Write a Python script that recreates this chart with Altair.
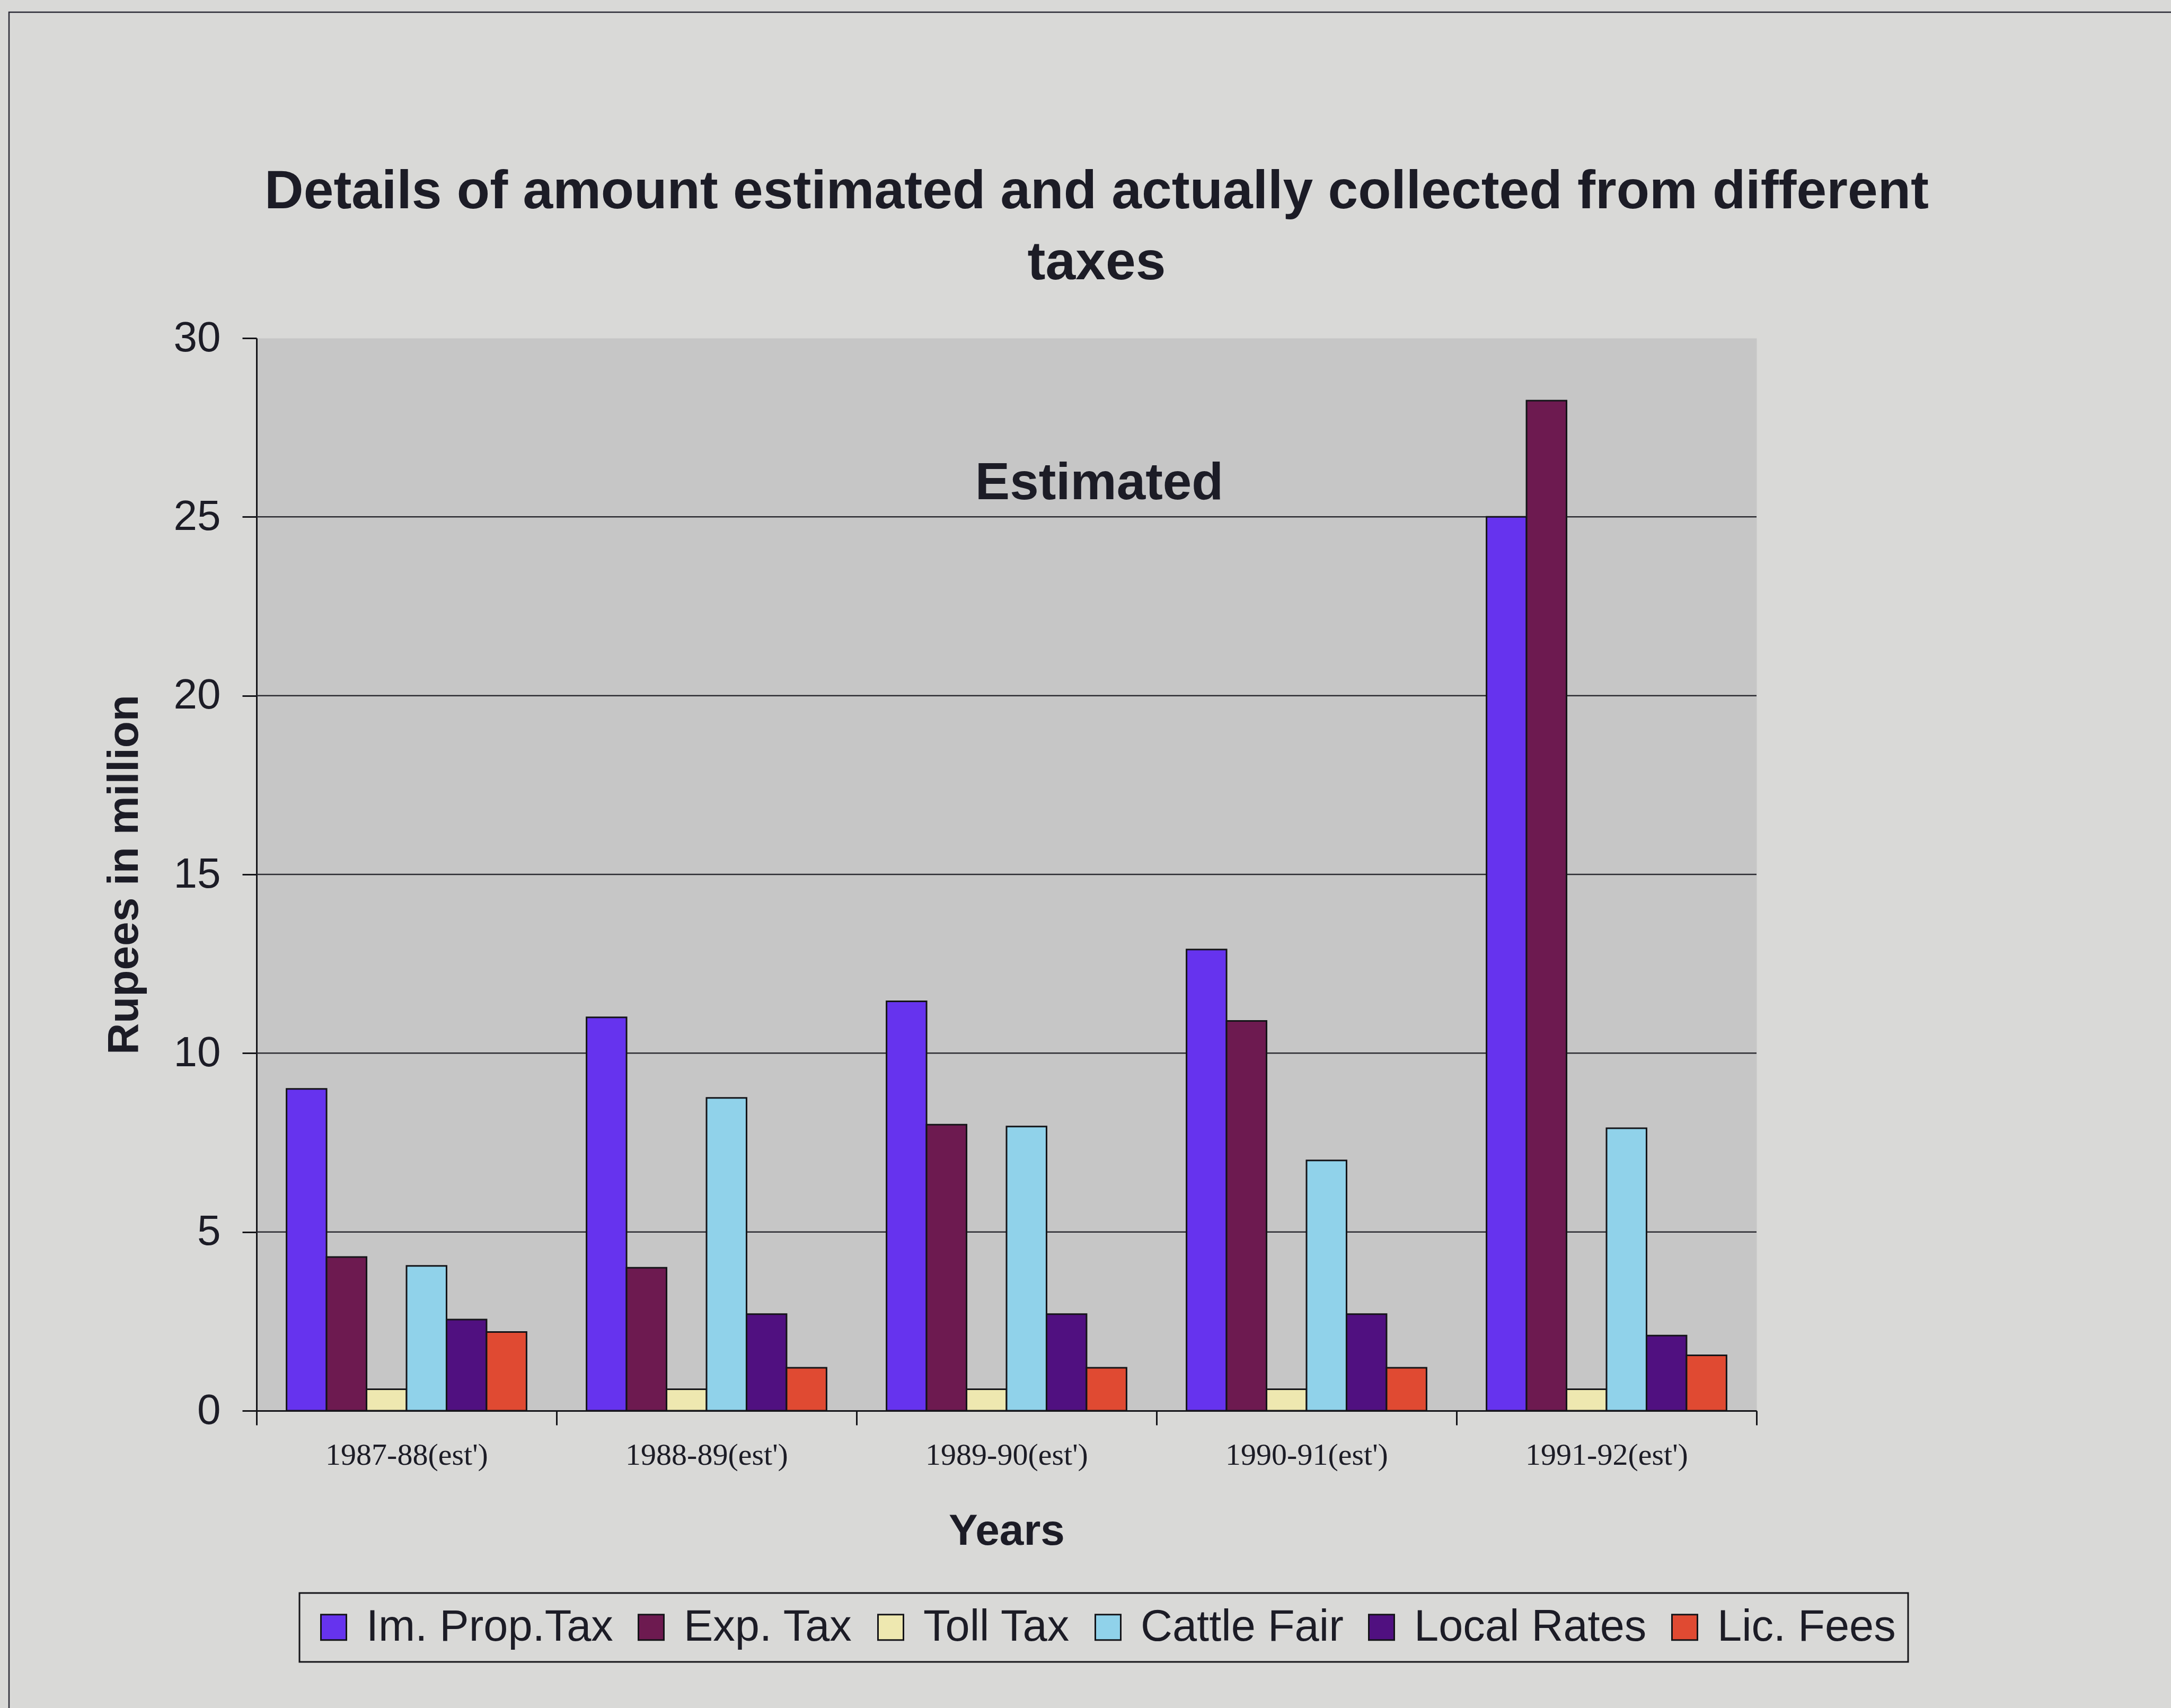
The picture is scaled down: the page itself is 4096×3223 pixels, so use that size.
import altair as alt
import pandas as pd

# ---------------- data ----------------
years = ["1987-88(est')", "1988-89(est')", "1989-90(est')", "1990-91(est')", "1991-92(est')"]
taxes = ["Im. Prop.Tax", "Exp. Tax", "Toll Tax", "Cattle Fair", "Local Rates", "Lic. Fees"]

im_prop = [9.0, 11.0, 11.45, 12.9, 25.0]
exp_tax = [4.3, 4.0, 8.0, 10.9, 28.25]
toll_tax = [0.6, 0.6, 0.6, 0.6, 0.6]
cattle_fair = [4.05, 8.75, 7.95, 7.0, 7.9]
local_rates = [2.55, 2.7, 2.7, 2.7, 2.1]
lic_fees = [2.2, 1.2, 1.2, 1.2, 1.55]

colors = ["#6633ee", "#6d1a50", "#eee8b0", "#90d2ea", "#501080", "#e04a32"]
grid_values = [5, 10, 15, 20, 25]

series = [im_prop, exp_tax, toll_tax, cattle_fair, local_rates, lic_fees]
rows = []
for t, vals in zip(taxes, series):
    for y, v in zip(years, vals):
        rows.append({"Year": y, "Tax": t, "Value": v})
df = pd.DataFrame(rows)
grid_df = pd.DataFrame({"Value": grid_values})
label_df = pd.DataFrame({"Year": ["1989-90(est')"], "Value": [25.5], "label": ["Estimated"]})

# ---------------- style ----------------
W, H = 2830, 2024
TXT = "#1c1c26"
LINE = "#141418"
PAGE_BG = "#d9d9d7"
PLOT_BG = "#c6c6c6"

y_enc = alt.Y(
    "Value:Q",
    scale=alt.Scale(domain=[0, 30], nice=False),
    axis=alt.Axis(
        values=[0, 5, 10, 15, 20, 25, 30], grid=False, format="d",
        domainColor=LINE, domainWidth=3, tickColor=LINE, tickWidth=3, tickSize=27,
        labelFont="Liberation Sans", labelFontSize=80, labelColor=TXT, labelPadding=41,
        title="Rupees in million", titleFont="Liberation Sans", titleFontSize=82,
        titleFontWeight="bold", titleColor=TXT, titleBaseline="alphabetic",
        titleAlign="center", titleX=-225, titleY=1012,
    ),
)

x_enc = alt.X(
    "Year:N",
    sort=years,
    scale=alt.Scale(domain=years, paddingInner=0, paddingOuter=0),
    axis=alt.Axis(
        labelAngle=0, labelFont="Liberation Serif", labelFontSize=58, labelColor=TXT,
        labelBaseline="alphabetic", labelPadding=74, labelLimit=1000, tickBand="extent",
        tickSize=27, tickWidth=3, tickColor=LINE, domainColor=LINE, domainWidth=3,
        title="Years", titleFont="Liberation Sans", titleFontSize=82, titleFontWeight="bold",
        titleColor=TXT, titleBaseline="alphabetic", titleX=W / 2, titleY=252,
        titleAlign="center",
    ),
)

frame = alt.Chart(alt.Data(values=[{"a": 1}])).mark_rect(
    fill="transparent", stroke="#2a2a35", strokeWidth=2.5
).encode(
    x=alt.value(-467), x2=alt.value(3800), y=alt.value(-615), y2=alt.value(2800)
)

grid = alt.Chart(grid_df).mark_rule(color="#2a2a30", strokeWidth=2.5).encode(y=y_enc)

bars = alt.Chart(df).mark_bar(stroke=LINE, strokeWidth=3).encode(
    x=x_enc,
    xOffset=alt.XOffset("Tax:N", sort=taxes,
                        scale=alt.Scale(domain=taxes, paddingInner=0, paddingOuter=0.75)),
    y=y_enc,
    color=alt.Color(
        "Tax:N", sort=taxes,
        scale=alt.Scale(domain=taxes, range=colors),
        legend=alt.Legend(
            orient="none", legendX=81, legendY=2368, direction="horizontal", columns=6,
            title=None, symbolType="square", symbolSize=2304, symbolStrokeColor=LINE,
            symbolStrokeWidth=3, symbolOpacity=1, labelFont="Liberation Sans", labelFontSize=83,
            labelColor=TXT, labelOffset=20, labelLimit=2000, columnPadding=30, padding=23,
            strokeColor=LINE,
        ),
    ),
)

est = alt.Chart(label_df).mark_text(
    font="Liberation Sans", fontSize=98, fontWeight="bold", color=TXT,
    baseline="alphabetic", align="center", dx=175,
).encode(x=alt.X("Year:N", sort=years), y=alt.Y("Value:Q"), text="label:N")

chart = alt.layer(frame, grid, bars, est).properties(
    width=W, height=H,
    autosize=alt.AutoSizeParams(type="none"),
    padding={"left": 484, "top": 638, "right": 782, "bottom": 561},
    background=PAGE_BG,
    title=alt.TitleParams(
        text=["Details of amount estimated and actually collected from different", "taxes"],
        font="Liberation Sans", fontSize=102, fontWeight="bold", color=TXT,
        anchor="middle", frame="group", dx=170, baseline="alphabetic",
        lineHeight=134, offset=-607,
    ),
).configure_view(fill=PLOT_BG, stroke="transparent").configure_legend(strokeWidth=3)

chart.save("out.html", embed_options={"renderer": "svg", "actions": False})
